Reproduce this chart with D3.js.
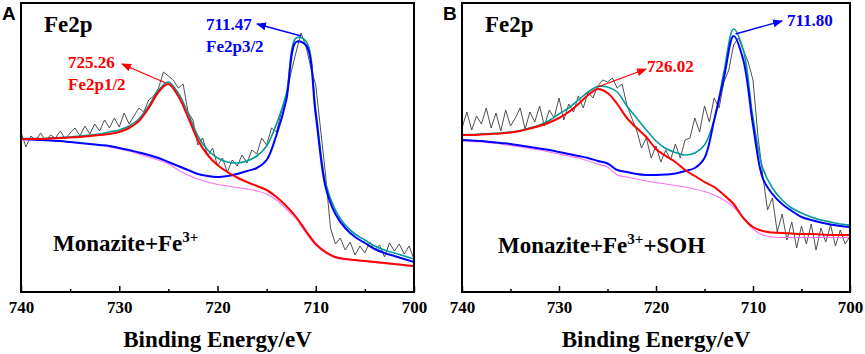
<!DOCTYPE html>
<html>
<head>
<meta charset="utf-8">
<script src="https://cdn.jsdelivr.net/npm/d3@7"></script>
<style>
  body { margin: 0; background: #fff; }
  svg { display: block; }
</style>
</head>
<body>
<div id="chart"></div>
<script>
// Binding energy grids (eV)
const energyFit = [740, 739, 738, 737, 736, 735, 734, 733, 732, 731, 730, 729, 728, 727, 726, 725, 724, 723, 722, 721,
    720, 719, 718, 717, 716, 715, 714, 713, 712, 711, 710, 709, 708, 707, 706, 705, 704, 703, 702, 701, 700];
const energyRaw = [740, 739.5, 739, 738.5, 738, 737.5, 737, 736.5, 736, 735.5, 735, 734.5, 734, 733.5, 733, 732.5, 732, 731.5, 731, 730.5,
    730, 729.5, 729, 728.5, 728, 727.5, 727, 726.5, 726, 725.5, 725, 724.5, 724, 723.5, 723, 722.5, 722, 721.5, 721, 720.5,
    720, 719.5, 719, 718.5, 718, 717.5, 717, 716.5, 716, 715.5, 715, 714.5, 714, 713.5, 713, 712.5, 712, 711.5, 711, 710.5,
    710, 709.5, 709, 708.5, 708, 707.5, 707, 706.5, 706, 705.5, 705, 704.5, 704, 703.5, 703, 702.5, 702, 701.5, 701, 700.5, 700];

// Panel A: Monazite+Fe3+ (intensity, a.u.)
const rawA = [160, 145, 156, 152, 159, 151, 157, 154, 161, 153, 159, 164, 156, 166, 158, 168, 161, 172, 164, 174,
    165, 179, 168, 176, 184, 180, 192, 196, 204, 220, 216, 212, 204, 208, 180, 172, 147, 154, 136, 144,
    126, 134, 120, 132, 126, 137, 129, 142, 138, 154, 147, 164, 160, 180, 197, 220, 240, 259, 246, 224,
    207, 162, 117, 64, 48, 54, 42, 50, 37, 46, 39, 50, 42, 47, 35, 49, 41, 48, 38, 46, 33];
const envelopeA = [153.5, 153.5, 153.5, 154, 154.5, 155, 156, 157, 158, 160, 162, 166, 173, 186, 202, 210, 199, 179, 156, 142,
    134, 130, 129, 131, 136, 146, 168, 198, 254, 251, 182, 109, 82, 67, 58, 52, 46, 42, 39, 36, 33];
const fe2p12A = [153, 153, 153, 153.5, 154, 154.5, 155, 156, 157, 158, 160, 164, 171, 184, 200, 208, 196, 175, 152, 137,
    127, 120, 114.5, 110, 106, 102, 95, 86, 75, 61, 48, 40, 35, 33, 32, 31, 30, 29, 28, 27, 26];
const fe2p32A = [153, 152.5, 152, 151.5, 151, 150, 149, 148, 147, 146, 144, 142, 139.5, 137, 134, 130, 126, 122, 118, 116,
    115, 116, 118, 121, 124, 132, 157, 192, 250, 247, 177, 105, 78, 64, 55, 49, 43, 39, 36, 33, 30];
const backgroundA = [152, 152, 152, 151.5, 151, 150, 149, 148, 147, 145, 143, 141, 138, 135, 132, 128, 122, 117, 113, 110,
    107.5, 106, 104.5, 103, 101, 98, 92, 83, 73, 59, 47, 39, 34, 32.5, 31.5, 30.5, 29.5, 28.5, 27.5, 26.5, 25.5];

// Panel B: Monazite+Fe3++SOH (intensity, a.u.)
const rawB = [164, 180, 162, 176, 168, 184, 164, 179, 161, 182, 166, 174, 184, 163, 180, 170, 186, 166, 182, 174,
    194, 172, 188, 180, 196, 184, 200, 194, 206, 212, 210, 214, 204, 208, 187, 174, 162, 144, 154, 134,
    146, 130, 142, 132, 148, 134, 152, 154, 174, 160, 186, 170, 194, 184, 210, 222, 247, 254, 242, 230,
    212, 157, 117, 82, 94, 60, 78, 52, 70, 44, 66, 48, 68, 42, 64, 50, 67, 46, 62, 48, 56];
const envelopeB = [157.5, 157.5, 158, 158.5, 159, 160, 161.5, 164, 167, 171.5, 178, 184, 192, 200, 205.5, 205, 200, 186, 174, 162,
    151, 143.5, 139.5, 137, 139, 147, 172, 220, 263, 242, 174, 124, 104, 92, 84, 79, 75, 72, 70, 68, 67];
const fe2p12B = [157, 157, 157.5, 158, 158.5, 159.5, 161, 163.5, 166, 169.5, 174, 180, 188, 197, 203, 199, 188, 174, 164, 155,
    143, 136, 130, 122, 116, 110, 105, 97, 88, 74, 65, 61, 59.5, 59, 58.5, 58, 58, 57.5, 57, 57, 57];
const fe2p32B = [152, 151.5, 151, 150, 149, 148, 146.5, 145, 143.5, 142, 140, 138, 136, 134, 131, 128.5, 122, 120, 118, 117,
    117, 117.5, 118.5, 121, 124, 134, 172, 214, 256, 232, 167, 114, 98, 88, 81, 75, 72, 69.5, 67.5, 66, 65];
const backgroundB = [151, 150.5, 150, 149, 148, 146.5, 145, 143.5, 142, 140, 138, 136, 134, 131, 128, 125, 117, 115, 113, 111,
    109.5, 108, 106.5, 105, 103, 100.5, 97, 92, 85, 74, 63, 57, 55, 54.5, 54.5, 54.5, 54.5, 54.5, 54.5, 54.5, 54.5];

// Peak positions (eV) and their heights for the arrows
const peaksA = [725.26, 711.47];
const peaksB = [726.02, 711.80];
const peakHeightsA = [209, 256];
const peakHeightsB = [205, 258];

const xTicks = [740, 730, 720, 710, 700];
const xMinorTicks = [735, 725, 715, 705];

const serif = "'Liberation Serif', 'Times New Roman', serif";
const plotTop = 3, plotBottom = 292;

const panels = [
    { id: "A", left: 21, right: 414, raw: rawA, env: envelopeA, p12: fe2p12A, p32: fe2p32A, bg: backgroundA,
      peaks: peaksA, heights: peakHeightsA, sample: ["Monazite+Fe", "3+", ""], sampleX: 53, sampleY: 251,
      labels: [
        { lines: ["725.26", "Fe2p1/2"], x: 68, y: 68, color: "#ff0000", arrowTo: [122, 64] },
        { lines: ["711.47", "Fe2p3/2"], x: 206, y: 30, color: "#0000ff", arrowTo: [257, 24] }
      ] },
    { id: "B", left: 462, right: 850, raw: rawB, env: envelopeB, p12: fe2p12B, p32: fe2p32B, bg: backgroundB,
      peaks: peaksB, heights: peakHeightsB, sample: ["Monazite+Fe", "3+", "+SOH"], sampleX: 498, sampleY: 253,
      labels: [
        { lines: ["726.02"], x: 647, y: 72, color: "#ff0000", arrowTo: [646, 69] },
        { lines: ["711.80"], x: 787, y: 26, color: "#0000ff", arrowTo: [782, 21] }
      ] }
];

const svg = d3.select("#chart")
    .append("svg")
    .attr("width", 865)
    .attr("height", 354);

const defs = svg.append("defs");
["#ff0000", "#0000ff"].forEach((c, i) => {
    defs.append("marker")
        .attr("id", "arrow" + i)
        .attr("markerUnits", "userSpaceOnUse")
        .attr("markerWidth", 10)
        .attr("markerHeight", 8)
        .attr("refX", 9)
        .attr("refY", 4)
        .attr("orient", "auto")
        .append("path")
        .attr("d", "M0,0 L10,4 L0,8 Z")
        .attr("fill", c);
});

panels.forEach(p => {
    const x = d3.scaleLinear().domain([740, 700]).range([p.left, p.right]);
    const y = d3.scaleLinear().domain([0, 289]).range([plotBottom, plotTop]);
    const g = svg.append("g");

    defs.append("clipPath")
        .attr("id", "clip" + p.id)
        .append("rect")
        .attr("x", p.left).attr("y", plotTop)
        .attr("width", p.right - p.left).attr("height", plotBottom - plotTop);

    const plot = g.append("g").attr("clip-path", `url(#clip${p.id})`);

    function curve(xs, ys, c) {
        return d3.line()
            .x((d, i) => x(xs[i]))
            .y(d => y(d))
            .curve(c)(ys);
    }

    // raw spectrum
    plot.append("path")
        .attr("d", curve(energyRaw, p.raw, d3.curveLinear))
        .attr("fill", "none").attr("stroke", "#3c3c3c").attr("stroke-width", 0.9);

    // fitted curves
    const fits = [
        { data: p.bg, color: "#ff6eff", w: 1.1 },
        { data: p.env, color: "#009b9b", w: 1.6 },
        { data: p.p32, color: "#0000ff", w: 2 },
        { data: p.p12, color: "#ff0000", w: 2 }
    ];
    fits.forEach(f => {
        plot.append("path")
            .attr("d", curve(energyFit, f.data, d3.curveCatmullRom.alpha(0.5)))
            .attr("fill", "none").attr("stroke", f.color).attr("stroke-width", f.w);
    });

    // frame
    g.append("rect")
        .attr("x", p.left).attr("y", plotTop)
        .attr("width", p.right - p.left).attr("height", plotBottom - plotTop)
        .attr("fill", "none").attr("stroke", "#000").attr("stroke-width", 2);

    // x axis (inward ticks)
    g.append("g")
        .attr("transform", `translate(0,${plotBottom})`)
        .call(d3.axisBottom(x).tickValues(xTicks).tickSizeInner(-6).tickSizeOuter(0).tickPadding(9))
        .call(a => a.select(".domain").remove())
        .call(a => a.selectAll("line").attr("stroke", "#000").attr("stroke-width", 1.5))
        .call(a => a.selectAll("text")
            .attr("font-family", serif).attr("font-size", 17)
            .attr("font-weight", "bold").attr("fill", "#000"));

    g.append("g")
        .attr("transform", `translate(0,${plotBottom})`)
        .call(d3.axisBottom(x).tickValues(xMinorTicks).tickSizeInner(-3).tickSizeOuter(0).tickFormat(""))
        .call(a => a.select(".domain").remove())
        .call(a => a.selectAll("line").attr("stroke", "#000").attr("stroke-width", 1.5));

    // axis title
    g.append("text")
        .attr("x", (p.left + p.right) / 2)
        .attr("y", 347)
        .attr("text-anchor", "middle")
        .attr("font-family", serif).attr("font-size", 23).attr("font-weight", "bold")
        .text("Binding Energy/eV");

    // panel letter
    g.append("text")
        .attr("x", p.left - 19).attr("y", 20)
        .attr("font-family", "'Liberation Sans', Arial, sans-serif")
        .attr("font-size", 19).attr("font-weight", "bold")
        .text(p.id);

    g.append("text")
        .attr("x", p.left + 23).attr("y", 32)
        .attr("font-family", serif).attr("font-size", 23).attr("font-weight", "bold")
        .text("Fe2p");

    // sample name with superscript
    const s = g.append("text")
        .attr("x", p.sampleX).attr("y", p.sampleY)
        .attr("font-family", serif).attr("font-size", 23).attr("font-weight", "bold");
    s.append("tspan").text(p.sample[0]);
    s.append("tspan").attr("dy", -9).attr("font-size", 15).text(p.sample[1]);
    if (p.sample[2]) s.append("tspan").attr("dy", 9).text(p.sample[2]);

    // peak labels with arrows
    p.labels.forEach((l, i) => {
        l.lines.forEach((t, k) => {
            g.append("text")
                .attr("x", l.x).attr("y", l.y + k * 22)
                .attr("font-family", serif).attr("font-size", 17).attr("font-weight", "bold")
                .attr("fill", l.color)
                .text(t);
        });
        g.append("line")
            .attr("x1", x(p.peaks[i])).attr("y1", y(p.heights[i]))
            .attr("x2", l.arrowTo[0]).attr("y2", l.arrowTo[1])
            .attr("stroke", l.color).attr("stroke-width", 1.3)
            .attr("marker-end", `url(#arrow${i})`);
    });
});
</script>
</body>
</html>
